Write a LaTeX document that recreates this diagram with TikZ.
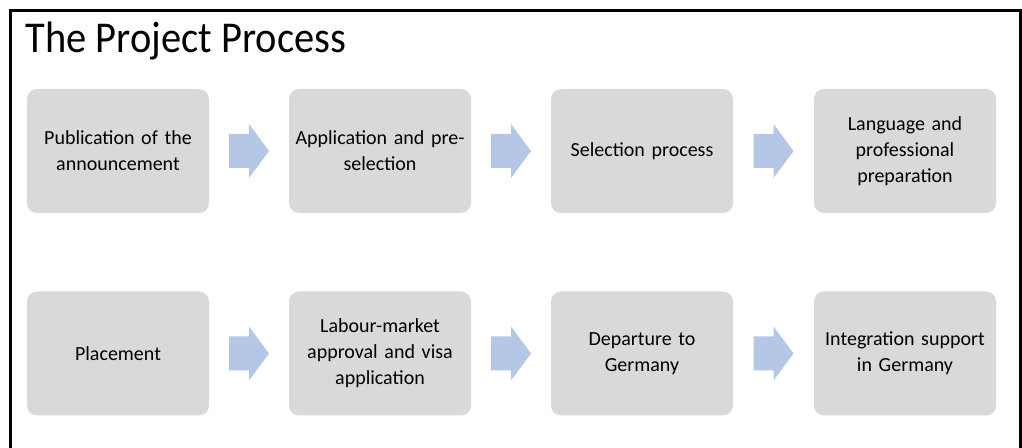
\documentclass[tikz,border=0pt]{standalone}
\usepackage{fontspec}
\setmainfont{Carlito}
\newfontfamily\headfont[FakeStretch=0.92]{Carlito}
\usetikzlibrary{calc}

\definecolor{boxgray}{HTML}{D9D9D9}
\definecolor{arrowblue}{HTML}{B4C7E7}

\tikzset{
  stepbox/.style={fill=boxgray, rounded corners=7.5pt, minimum width=136.5pt,
    minimum height=93pt, inner sep=0pt, text width=128pt, align=center,
    font=\fontsize{15}{19.5}\selectfont},
  blockarrow/.style={fill=arrowblue},
}

% block arrow centred on a coordinate
\newcommand{\steparrow}[1]{%
  \fill[blockarrow] ($(#1)+(-20,-17)$) -- ++(20,0) -- ++(0,-10) -- ++(20,27)
    -- ++(-20,27) -- ++(0,-10) -- ++(-20,0) -- cycle;}

\begin{document}
\begin{tikzpicture}[x=0.75pt, y=-0.75pt]
    \useasboundingbox (0,0) rectangle (1022,448);
    % Frame, open at the bottom
    \draw[line width=2.25pt] (10.5,452) -- (10.5,10.5) -- (1020,10.5) -- (1020,452);
    % Heading
    \node[anchor=base west, font=\headfont\fontsize{33}{40}\selectfont] (title) at (21,53) {The Project Process};
    % First row of steps
    \node[stepbox] (pub) at (118,151) {Publication of the\\announcement};
    \node[stepbox] (appl) at (380,151) {Application and pre-\\selection};
    \node[stepbox] (sel) at (642,151) {Selection process};
    \node[stepbox] (lang) at (905,151) {Language and\\professional\\preparation};
    % Second row of steps
    \node[stepbox] (place) at (118,353.5) {Placement};
    \node[stepbox] (visa) at (380,353.5) {Labour-market\\approval and visa\\application};
    \node[stepbox] (dep) at (642,353.5) {Departure to\\Germany};
    \node[stepbox] (integ) at (905,353.5) {Integration support\\in Germany};
    % Arrows between the steps
    \coordinate (a1) at ($(pub.east)!0.5!(appl.west)$);
    \coordinate (a2) at ($(appl.east)!0.5!(sel.west)$);
    \coordinate (a3) at ($(sel.east)!0.5!(lang.west)$);
    \coordinate (b1) at ($(place.east)!0.5!(visa.west)$);
    \coordinate (b2) at ($(visa.east)!0.5!(dep.west)$);
    \coordinate (b3) at ($(dep.east)!0.5!(integ.west)$);
    \steparrow{a1} \steparrow{a2} \steparrow{a3}
    \steparrow{b1} \steparrow{b2} \steparrow{b3}
\end{tikzpicture}
\end{document}
